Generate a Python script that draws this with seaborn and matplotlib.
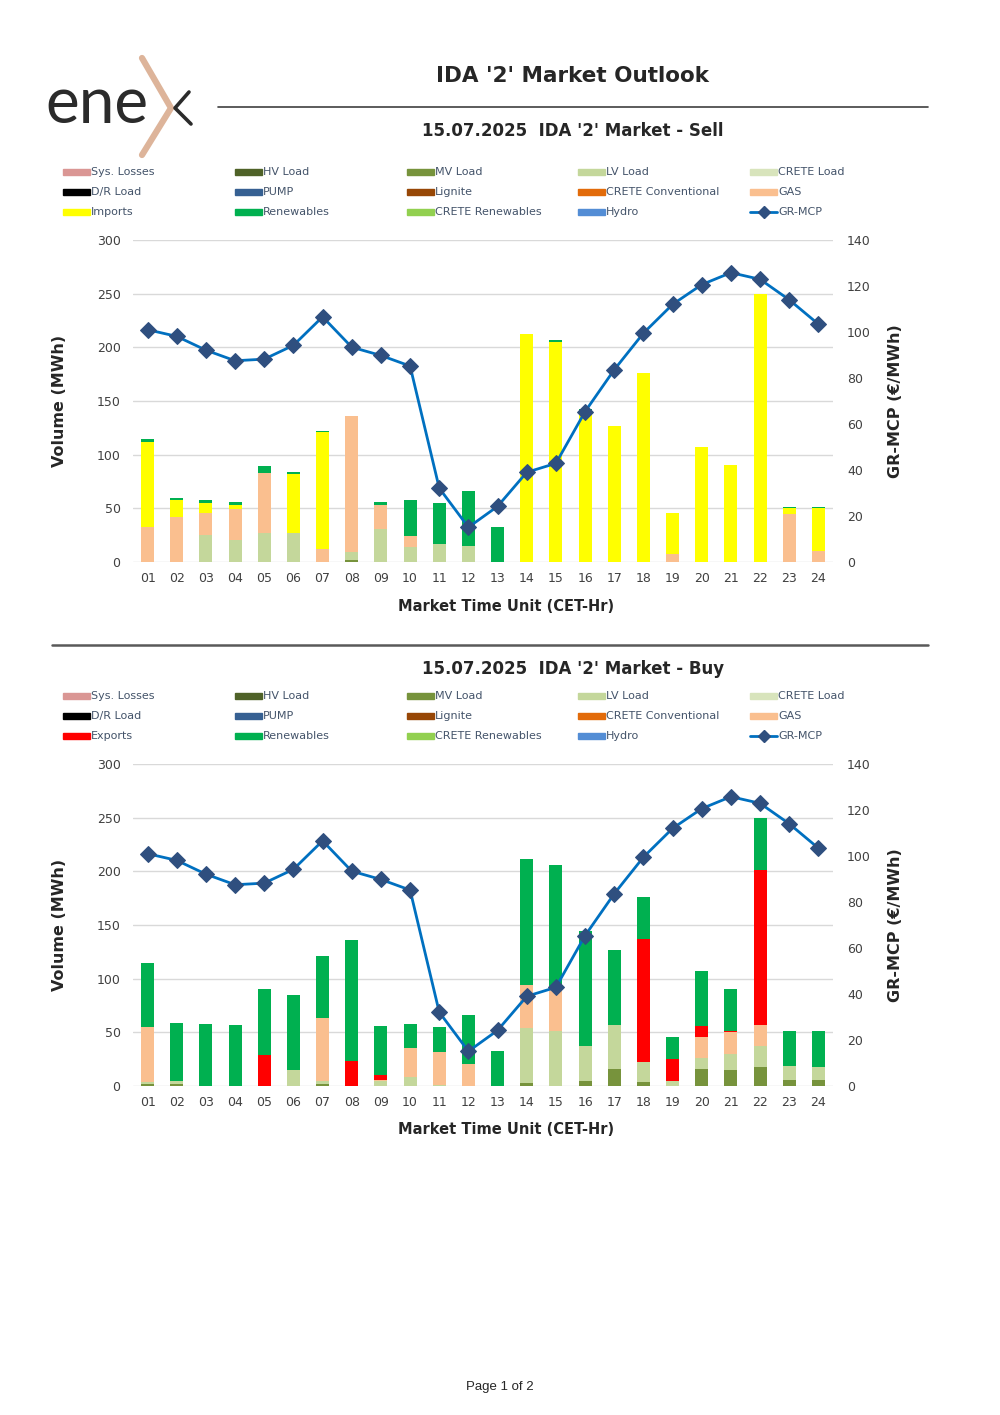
import numpy as np
import pandas as pd
import seaborn as sns
import matplotlib.pyplot as plt
from matplotlib.patches import Rectangle
from matplotlib.lines import Line2D

# --------------------------------------------------
# Data
# --------------------------------------------------

hours = [f"{h:02d}" for h in range(1, 25)]

mcp = [101.0, 98.1, 92.1, 87.5, 88.2, 94.2, 106.6, 93.4, 89.8, 85.2, 32.1, 15.1,
       24.2, 39.0, 42.9, 65.4, 83.6, 99.5, 112.0, 120.6, 125.8, 122.9, 114.0, 103.4]

# Sell side
sell_mv = [0, 0, 0, 0, 0, 0, 0, 2, 0, 0, 0, 0,
           0, 0, 0, 0, 0, 0, 0, 0, 0, 0, 0, 0]
sell_lv = [0, 0, 25, 20.5, 27, 27, 0, 7, 31, 14, 17, 15,
           0, 0, 0, 0, 0, 0, 0, 0, 0, 0, 0, 0]
sell_gas = [33, 42, 21, 29, 56, 0, 12, 127, 22.5, 10.5, 0, 0,
            0, 0, 0, 0, 0, 0, 7, 0, 0, 0, 45, 10]
sell_imports = [79, 16, 9, 4, 0, 55, 109, 0, 0, 0, 0, 0,
                0, 212, 205, 141, 127, 176.5, 38.5, 107, 90, 250, 5, 40]
sell_ren = [2.5, 1.3, 3, 2.5, 6.5, 2, 1, 0, 2.5, 33, 37.7, 51,
            33, 0, 2, 1.5, 0, 0, 0, 0, 0, 0, 1.5, 1.5]

# Buy side
buy_mv = [2, 2, 0, 0, 0, 0, 2, 0, 0, 0, 0, 0,
          0, 2.5, 0, 4.5, 15.5, 4, 0, 16, 15, 18, 6, 6]
buy_lv = [2, 2.5, 0, 0, 0, 15, 2.5, 0, 4.5, 8, 1, 0,
          0, 52, 51, 33, 41, 18, 5, 10.5, 15, 19, 12.5, 12]
buy_gas = [51, 0, 0, 0, 0, 0, 59, 0, 1, 27, 31, 20.5,
           0, 40, 41, 0, 0, 0, 0, 19.5, 20, 19.5, 0, 0]
buy_exports = [0, 0, 0, 0, 29, 0, 0, 23, 4.5, 0, 0, 0,
               0, 0, 0, 0, 0, 115, 20.5, 10, 1, 145, 0, 0]
buy_ren = [60, 54, 57.5, 56.5, 61, 70, 58, 113, 46, 23, 23, 45.5,
           33, 117, 114, 106.5, 70, 39, 20, 51, 39, 48, 33, 33]

COLORS = {
    "Sys. Losses": "#DA9694",
    "HV Load": "#4F6228",
    "MV Load": "#77933C",
    "LV Load": "#C4D79B",
    "CRETE Load": "#D8E4BC",
    "D/R Load": "#000000",
    "PUMP": "#366092",
    "Lignite": "#974706",
    "CRETE Conventional": "#E26B0A",
    "GAS": "#FABF8F",
    "Imports": "#FFFF00",
    "Exports": "#FF0000",
    "Renewables": "#00B050",
    "CRETE Renewables": "#92D050",
    "Hydro": "#538DD5",
}

LEGEND_ORDER = [
    "Sys. Losses", "HV Load", "MV Load", "LV Load", "CRETE Load",
    "D/R Load", "PUMP", "Lignite", "CRETE Conventional", "GAS",
    "Imports", "Renewables", "CRETE Renewables", "Hydro", "GR-MCP",
]

sell_layers = [
    ("MV Load", sell_mv),
    ("LV Load", sell_lv),
    ("GAS", sell_gas),
    ("Imports", sell_imports),
    ("Renewables", sell_ren),
]

buy_layers = [
    ("MV Load", buy_mv),
    ("LV Load", buy_lv),
    ("GAS", buy_gas),
    ("Exports", buy_exports),
    ("Renewables", buy_ren),
]

# --------------------------------------------------
# Figure
# --------------------------------------------------

sns.set_style("white")
plt.rcParams["font.family"] = ["DejaVu Sans"]

W, H = 1000, 1415
fig = plt.figure(figsize=(10, 14.15), dpi=100)


def fx(x):
    return x / W


def fy(y):
    return 1 - y / H


def draw_legend(top_y, names):
    cols = [63, 235, 407, 578, 750]
    for i, name in enumerate(names):
        cx = cols[i % 5]
        cy = top_y + 20 * (i // 5)
        if name == "GR-MCP":
            fig.add_artist(Line2D(
                [fx(cx), fx(cx + 27)], [fy(cy), fy(cy)],
                color="#0070C0", lw=2, transform=fig.transFigure
            ))
            fig.add_artist(Line2D(
                [fx(cx + 13.5)], [fy(cy)], marker="D", markersize=6,
                color="#2F4F7F", transform=fig.transFigure
            ))
        else:
            fig.add_artist(Rectangle(
                (fx(cx), fy(cy + 3)), fx(27), 6 / H,
                color=COLORS[name], transform=fig.transFigure
            ))
        fig.text(fx(cx + 28), fy(cy), name, fontsize=8,
                 color="#44546A", va="center", ha="left")


def draw_chart(top_px, layers, subtitle, subtitle_y):
    bottom_px = top_px + 322
    ax = fig.add_axes([fx(133), fy(bottom_px), fx(700), 322 / H])

    # stacked bars: draw cumulative tops from the highest layer down
    cum = np.cumsum([np.array(v, dtype=float) for _, v in layers], axis=0)
    for (name, _), top in reversed(list(zip(layers, cum))):
        sns.barplot(
            x=hours, y=top, color=COLORS[name], width=0.45,
            saturation=1, errorbar=None, linewidth=0, ax=ax
        )

    ax.set_ylim(0, 300)
    ax.set_xlim(-0.5, 23.5)
    ax.set_yticks(range(0, 301, 50))
    ax.yaxis.grid(True, color="#D9D9D9", lw=1)
    ax.set_axisbelow(True)
    for s in ax.spines.values():
        s.set_visible(False)
    ax.tick_params(axis="both", length=0, labelsize=9, colors="#404040")
    ax.tick_params(axis="y", pad=9)
    ax.tick_params(axis="x", pad=7)
    ax.set_xlabel("Market Time Unit (CET-Hr)", fontsize=10.5,
                  fontweight="bold", va="center")
    ax.xaxis.set_label_coords((506 - 133) / 700, -44 / 322)
    ax.set_ylabel("Volume (MWh)", fontsize=11.5, fontweight="bold",
                  va="center")
    ax.yaxis.set_label_coords((60 - 133) / 700, 0.5)

    ax2 = ax.twinx()
    sns.lineplot(
        x=np.arange(24), y=mcp, ax=ax2, color="#0070C0", lw=2,
        marker="D", markersize=8, markerfacecolor="#2F4F7F",
        markeredgecolor="#2F4F7F"
    )
    ax2.set_ylim(0, 140)
    ax2.set_xlim(-0.5, 23.5)
    ax2.set_yticks(range(0, 141, 20))
    ax2.grid(False)
    for s in ax2.spines.values():
        s.set_visible(False)
    ax2.tick_params(axis="y", length=0, labelsize=9, colors="#404040",
                    pad=10)
    ax2.set_ylabel("GR-MCP (€/MWh)", fontsize=11.5, fontweight="bold",
                   va="center", rotation=90)
    ax2.yaxis.set_label_coords((895 - 133) / 700, 0.5)

    fig.text(fx(573), fy(subtitle_y), subtitle, fontsize=12,
             fontweight="bold", ha="center", va="center")


# header
fig.text(fx(572), fy(76), "IDA '2' Market Outlook", fontsize=15.5,
         fontweight="bold", ha="center", va="center")
fig.add_artist(Line2D([fx(218), fx(928)], [fy(107), fy(107)],
                      color="#404040", lw=1.2, transform=fig.transFigure))

# logo
fig.text(fx(45), fy(123), "ene", fontsize=46, color="#2B2B2B",
         family=["Lato", "DejaVu Sans"], fontweight="normal",
         va="baseline", ha="left")
fig.add_artist(Line2D([fx(142), fx(171), fx(142)], [fy(58), fy(108), fy(155)],
                      color="#DDB49A", lw=4.5, solid_joinstyle="miter",
                      transform=fig.transFigure))
fig.add_artist(Line2D([fx(189), fx(175), fx(191)], [fy(92), fy(108), fy(124)],
                      color="#2B2B2B", lw=2.6, transform=fig.transFigure))

# sell chart
draw_legend(172, LEGEND_ORDER)
draw_chart(240, sell_layers, "15.07.2025  IDA '2' Market - Sell", 131)

# separator
fig.add_artist(Line2D([fx(52), fx(928)], [fy(645), fy(645)],
                      color="#595959", lw=1.8, transform=fig.transFigure))

# buy chart
buy_legend = [n if n != "Imports" else "Exports" for n in LEGEND_ORDER]
draw_legend(696, buy_legend)
draw_chart(764, buy_layers, "15.07.2025  IDA '2' Market - Buy", 669)

fig.text(fx(500), fy(1387), "Page 1 of 2", fontsize=9.5,
         family="Liberation Sans", ha="center", va="center")

plt.savefig("out.png", dpi=100)
plt.close()
